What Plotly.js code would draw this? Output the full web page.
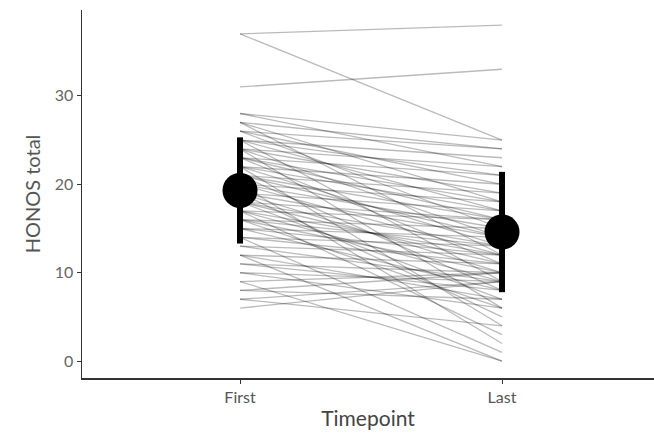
<!DOCTYPE html>
<html>
<head>
<meta charset="utf-8">
<script src="https://cdn.plot.ly/plotly-3.0.1.min.js"></script>
<style>html,body{margin:0;padding:0;background:#fff;}#chart{width:654px;height:443px;}</style>
</head>
<body>
<div id="chart"></div>
<script>
const timepoints = ['First', 'Last'];
const firstScores = [37,37,31,28,28,27,27,27,26,26,26,25,25,25,25,24,24,24,24,23,23,23,23,22,22,22,22,21,21,21,21,20,20,20,20,19,19,19,19,18,18,18,18,17,17,17,17,16,16,16,16,15,15,15,14,14,14,13,13,12,12,12,11,11,10,10,9,9,8,8,7,7,6];
const lastScores  = [38,25,33,25,22,24,18,12,24,20,15,23,21,17,9,22,19,14,6,21,18,16,11,20,17,13,4,19,16,14,8,18,15,12,2,17,14,10,5,16,13,11,7,16,12,9,3,15,13,10,6,14,12,8,13,11,1,12,9,11,7,0,10,8,9,6,0,10,7,10,9,4,9];
const meanScores = [19.3, 14.6];
const sdScores = [6.0, 6.8];

const traces = [];
for (let i = 0; i < firstScores.length; i++) {
  traces.push({
    type: 'scatter', mode: 'lines',
    x: timepoints, y: [firstScores[i], lastScores[i]],
    line: {color: 'rgba(0,0,0,0.27)', width: 1.3},
    hoverinfo: 'skip', showlegend: false
  });
}
traces.push({
  type: 'scatter', mode: 'markers',
  x: timepoints, y: meanScores,
  marker: {color: '#000', size: 35},
  error_y: {type: 'data', array: sdScores, visible: true, color: '#000', thickness: 6, width: 0},
  showlegend: false
});

const font = 'Lato, "Open Sans", sans-serif';
const layout = {
  width: 654, height: 443,
  margin: {l: 82, r: 0, t: 10, b: 65},
  paper_bgcolor: '#fff', plot_bgcolor: '#fff',
  font: {family: font, color: '#555'},
  showlegend: false,
  xaxis: {
    type: 'category', range: [-0.603, 1.58],
    showgrid: false, zeroline: false,
    showline: true, linecolor: '#333', linewidth: 1.5,
    ticks: 'outside', ticklen: 4, tickcolor: '#333', tickwidth: 1,
    tickfont: {size: 16, color: '#555', family: font},
    title: {text: 'Timepoint', font: {size: 21, color: '#444', family: font}, standoff: 6}
  },
  yaxis: {
    range: [-1.9, 39.7],
    tickvals: [0, 10, 20, 30],
    showgrid: false, zeroline: false,
    showline: true, linecolor: '#333', linewidth: 1.5,
    ticks: 'outside', ticklen: 4, tickcolor: '#333', tickwidth: 1,
    tickfont: {size: 16, color: '#666', family: font},
    title: {text: 'HONOS total', font: {size: 20, color: '#555', family: font}, standoff: 8}
  }
};
Plotly.newPlot('chart', traces, layout, {displayModeBar: false, staticPlot: true});
</script>
</body>
</html>
